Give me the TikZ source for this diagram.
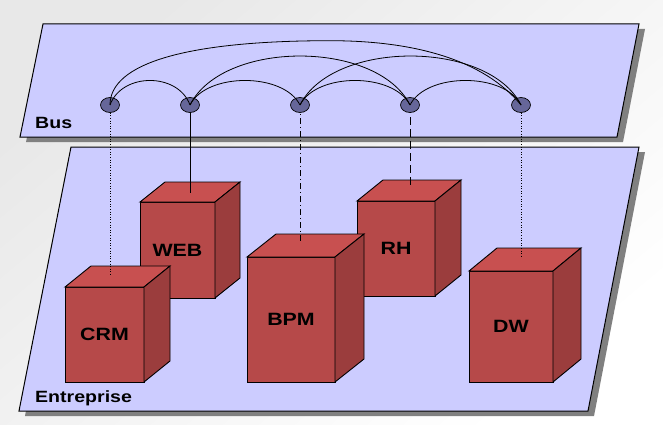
\documentclass[tikz,border=0pt]{standalone}
\usepackage{fontspec}
\setmainfont{Liberation Sans}
\usetikzlibrary{calc,shapes.geometric}

\definecolor{planefill}{HTML}{CCCCFF}
\definecolor{shadowgray}{HTML}{808080}
\definecolor{frontred}{HTML}{B64949}
\definecolor{topred}{HTML}{C85050}
\definecolor{sidered}{HTML}{9B3D3D}
\definecolor{busnode}{HTML}{666699}

% bold labels, slightly widened
\newcommand\widelabel[1]{\scalebox{1.2}[1]{#1}}

\tikzset{
  layer/.style={fill=planefill, draw=black, line width=1pt, line join=miter},
  layershadow/.style={fill=shadowgray, draw=none},
  frontface/.style={fill=frontred, draw=black, line width=0.9pt},
  topface/.style={fill=topred, draw=black, line width=0.9pt},
  sideface/.style={fill=sidered, draw=black, line width=0.9pt},
  boxlabel/.style={inner sep=0pt, font=\fontsize{17.8}{18}\selectfont\bfseries},
  layerlabel/.style={inner sep=0pt, anchor=west, font=\fontsize{16.3}{17}\selectfont\bfseries},
  busport/.style={ellipse, fill=busnode, draw=black, line width=0.7pt,
    minimum width=19pt, minimum height=15pt, inner sep=0pt},
  link/.style={draw=black, line width=0.8pt},
  wire/.style={draw=black, line width=0.9pt},
}

% #1 name, #2 text, #3 x left, #4 x right, #5 y top, #6 y bottom, #7 dx, #8 dy
\newcommand\serverbox[8]{%
  \path[frontface] (#3,#5) rectangle (#4,#6);
  \path[topface] (#3,#5) -- ++(#7,#8) -- ++({#4-#3},0) -- (#4,#5) -- cycle;
  \path[sideface] (#4,#5) -- ++(#7,#8) -- ++(0,{#6-#5}) -- (#4,#6) -- cycle;
  \node[boxlabel] (#1) at ({(#3+#4)/2},{(#5+#6)/2}) {\widelabel{#2}};
}

\begin{document}
\begin{tikzpicture}[x=1pt, y=-1pt]
  \useasboundingbox (0,0) rectangle (663,425);
  \shade[shading=axis, top color=black!9, bottom color=white, shading angle=40]
    (0,0) rectangle (663,425);

  % Bus layer
  \path[layershadow] (49,29) -- (645,29) -- (623,142) -- (26,142) -- cycle;
  \path[layer] (43,24) -- (639,24) -- (617,137) -- (20,137) -- cycle;
  \node[layerlabel] (buslbl) at (35,123) {\widelabel{Bus}};

  % Entreprise layer
  \path[layershadow] (77,152) -- (645,152) -- (594,416) -- (25,416) -- cycle;
  \path[layer] (71,147) -- (639,147) -- (588,411) -- (19,411) -- cycle;
  \node[layerlabel] (entlbl) at (35,398) {\widelabel{Entreprise}};

  % application blocks
  \serverbox{web}{WEB}{140}{215}{202}{298}{25}{-20}
  \serverbox{crm}{CRM}{65}{144}{287}{382}{26}{-21}
  \serverbox{rh}{RH}{357}{435}{201}{296}{26}{-21}
  \serverbox{bpm}{BPM}{247}{335}{257}{382}{29}{-23}
  \serverbox{dw}{DW}{469}{553}{271}{382}{28}{-23}

  % attachment points on the block tops
  \coordinate (crmtop) at (110,275);
  \coordinate (webtop) at (190,193);
  \coordinate (bpmtop) at (300,243);
  \coordinate (rhtop)  at (410,185);
  \coordinate (dwtop)  at (521,257);

  % bus ports
  \coordinate (p1) at (110,105);
  \coordinate (p2) at (190,105);
  \coordinate (p3) at (300,105);
  \coordinate (p4) at (410,105);
  \coordinate (p5) at (521,105);

  % drops from the bus to the blocks
  \draw[wire, line width=0.8pt, dash pattern=on 1pt off 1.6pt] (p1) -- (crmtop);
  \draw[wire] (p2) -- (webtop);
  \draw[wire, dash pattern=on 6pt off 3pt on 1pt off 3pt] (p3) -- (bpmtop);
  \draw[wire, dash pattern=on 8pt off 4pt] (p4) -- (rhtop);
  \draw[wire, line width=0.8pt, dash pattern=on 1pt off 1.6pt] (p5) -- (dwtop);

  \node[busport] (b1) at (p1) {};
  \node[busport] (b2) at (p2) {};
  \node[busport] (b3) at (p3) {};
  \node[busport] (b4) at (p4) {};
  \node[busport] (b5) at (p5) {};

  % links between ports
  \draw[link] (b1.center) .. controls ($(b1.center)+(12,-32.7)$) and ($(b2.center)+(-12,-32.7)$) .. (b2.center);
  \draw[link] (b2.center) .. controls ($(b2.center)+(16.5,-32.7)$) and ($(b3.center)+(-16.5,-32.7)$) .. (b3.center);
  \draw[link] (b3.center) .. controls ($(b3.center)+(16.5,-32.7)$) and ($(b4.center)+(-16.5,-32.7)$) .. (b4.center);
  \draw[link] (b4.center) .. controls ($(b4.center)+(16.5,-32.7)$) and ($(b5.center)+(-16.5,-32.7)$) .. (b5.center);
  \draw[link] (b2.center) .. controls ($(b2.center)+(33,-65.3)$) and ($(b4.center)+(-33,-65.3)$) .. (b4.center);
  \draw[link] (b3.center) .. controls ($(b3.center)+(33,-65.3)$) and ($(b5.center)+(-33,-65.3)$) .. (b5.center);
  % long link: steep rise from the first port, slanted arrival at the last
  \coordinate (apex) at (330,40.7);
  \draw[link] (b1.center) .. controls ($(b1.center)+(0,-41.8)$) and ($(apex)+(-143,0)$) .. (apex)
              .. controls ($(apex)+(85,0)$) and ($(b5.center)+(-37,-45)$) .. (b5.center);
\end{tikzpicture}
\end{document}
